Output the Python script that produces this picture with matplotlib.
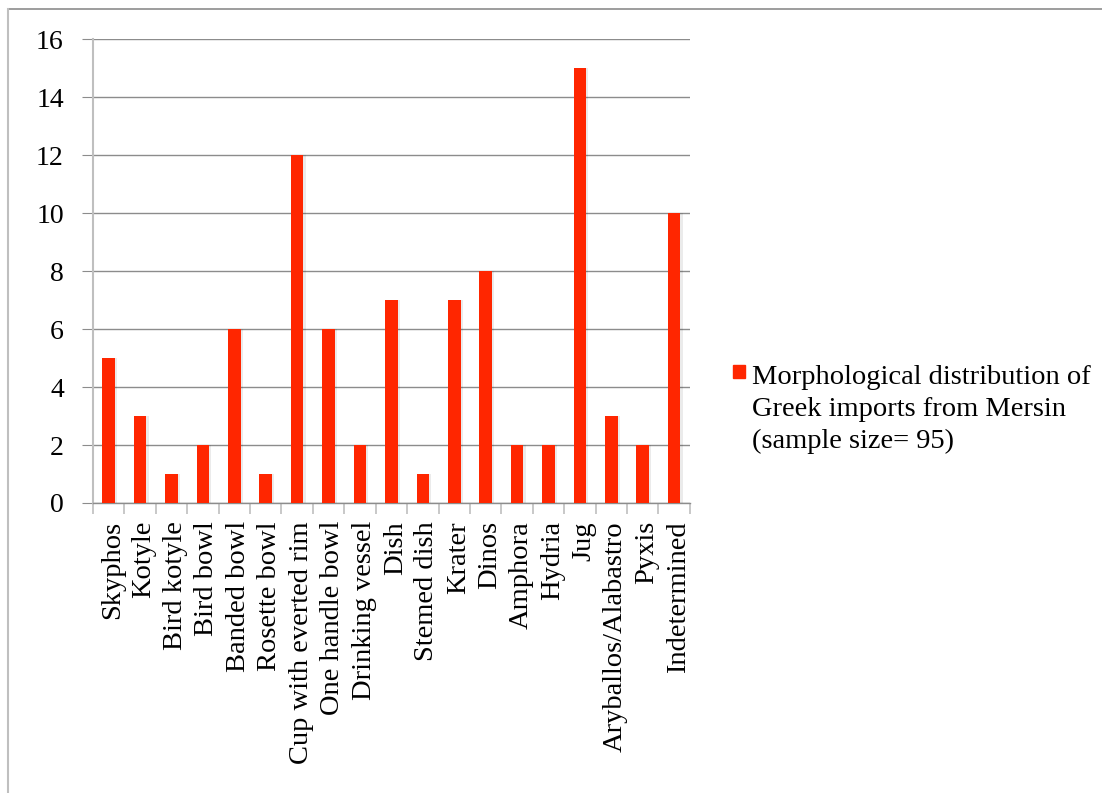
import matplotlib
matplotlib.use("Agg")
import matplotlib.pyplot as plt
import matplotlib.transforms as mtransforms
from matplotlib.patches import Rectangle
from matplotlib.lines import Line2D

categories = ["Skyphos", "Kotyle", "Bird kotyle", "Bird bowl", "Banded bowl",
              "Rosette bowl", "Cup with everted rim", "One handle bowl",
              "Drinking vessel", "Dish", "Stemed dish", "Krater", "Dinos",
              "Amphora", "Hydria", "Jug", "Aryballos/Alabastro", "Pyxis",
              "Indetermined"]
counts = [5, 3, 1, 2, 6, 1, 12, 6, 2, 7, 1, 7, 8, 2, 2, 15, 3, 2, 10]
y_ticks = [0, 2, 4, 6, 8, 10, 12, 14, 16]
series_label = "Morphological distribution of\nGreek imports from Mersin\n(sample size= 95)"

plt.rcParams["font.family"] = ["Liberation Serif", "DejaVu Serif"]
bar_color = "#FF2600"
grid_color = "#8C8C8C"
axis_color = "#BFBFBF"

fig = plt.figure(figsize=(11.02, 7.93), dpi=100)
ax = fig.add_axes([0.0844, 0.3657, 0.5416, 0.5851])

x = list(range(len(categories)))
# soft drop shadow behind the bars
ax.bar([i + 0.06 for i in x], counts, width=0.42, color="#000000", alpha=0.08,
       zorder=2)
ax.bar(x, counts, width=0.40, color=bar_color, zorder=3)

ax.set_xlim(-0.5, len(categories) - 0.5)
ax.set_ylim(0, 16)
ax.set_yticks(y_ticks)
ax.set_yticklabels([str(v) for v in y_ticks], fontsize=20)
ax.yaxis.grid(True, color=grid_color, linewidth=1.0, zorder=0)
ax.set_axisbelow(True)

ax.set_xticks(x)
ax.set_xticklabels(categories, rotation=90, fontsize=20.5)
ax.tick_params(axis="x", length=0, pad=13)
ax.tick_params(axis="y", length=8, color=grid_color, pad=13)

# nudge the rotated category labels slightly to the right
shift = mtransforms.ScaledTranslation(4 / 100, 0, fig.dpi_scale_trans)
for lbl in ax.get_xticklabels():
    lbl.set_transform(lbl.get_transform() + shift)

# category boundary ticks on the x axis
ax.set_xticks([i - 0.5 for i in range(len(categories) + 1)], minor=True)
ax.tick_params(axis="x", which="minor", length=8, color=axis_color, width=1.2)

for side in ("top", "right"):
    ax.spines[side].set_visible(False)
ax.spines["left"].set_color(axis_color)
ax.spines["left"].set_linewidth(1.5)
ax.spines["bottom"].set_color(grid_color)
ax.spines["bottom"].set_linewidth(1.0)

# outer chart frame (top and left edges)
fig.add_artist(Line2D([8 / 1102, 1.0], [1 - 9 / 793, 1 - 9 / 793],
                      transform=fig.transFigure, color="#8C8C8C", linewidth=1.2))
fig.add_artist(Line2D([8 / 1102, 8 / 1102], [0.0, 1 - 9 / 793],
                      transform=fig.transFigure, color="#BFBFBF", linewidth=1.5))

# legend
fig.add_artist(Rectangle((733 / 1102, 1 - 378 / 793), 12 / 1102, 13 / 793,
                         transform=fig.transFigure, color=bar_color))
fig.text(752 / 1102, 1 - 365 / 793, series_label, fontsize=20.5,
         va="top", ha="left", linespacing=1.36)

fig.savefig("out.png", dpi=100)
